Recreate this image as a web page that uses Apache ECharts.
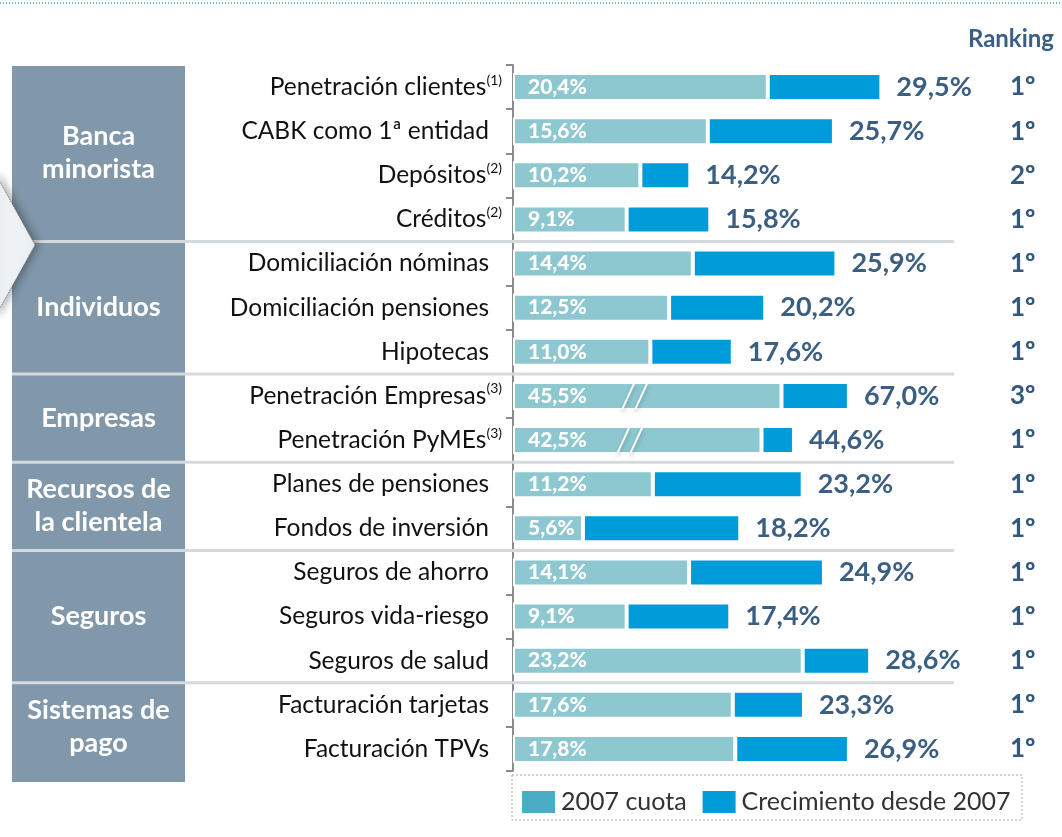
<!DOCTYPE html>
<html>
<head>
<meta charset="utf-8">
<script src="https://cdn.jsdelivr.net/npm/echarts@6/dist/echarts.min.js"></script>
<style>
  html, body { margin: 0; padding: 0; background: #ffffff; }
  #main { width: 1062px; height: 837px; }
</style>
</head>
<body>
<div id="main"></div>
<script>
// filas de arriba a abajo
const categories = [
  "Penetración clientes", "CABK como 1ª entidad", "Depósitos", "Créditos",
  "Domiciliación nóminas", "Domiciliación pensiones", "Hipotecas",
  "Penetración Empresas", "Penetración PyMEs",
  "Planes de pensiones", "Fondos de inversión",
  "Seguros de ahorro", "Seguros vida-riesgo", "Seguros de salud",
  "Facturación tarjetas", "Facturación TPVs"
];
const notes = ["(1)", "", "(2)", "(2)", "", "", "", "(3)", "(3)", "", "", "", "", "", "", ""];
const share2007 = [20.4, 15.6, 10.2, 9.1, 14.4, 12.5, 11.0, 45.5, 42.5, 11.2, 5.6, 14.1, 9.1, 23.2, 17.6, 17.8];
const shareNow = [29.5, 25.7, 14.2, 15.8, 25.9, 20.2, 17.6, 67.0, 44.6, 23.2, 18.2, 24.9, 17.4, 28.6, 23.3, 26.9];
const rankings = ["1º", "1º", "2º", "1º", "1º", "1º", "1º", "3º", "1º", "1º", "1º", "1º", "1º", "1º", "1º", "1º"];
// barras cortadas (//): longitud dibujada, no a escala
const brokenRows = [7, 8];
const brokenBase = [21.5, 19.9];
const brokenTotal = [26.9, 22.5];
const breakMarks = [[9.8, 7], [9.4, 8]];
// bloques del panel izquierdo
const groupNames = ["Banca\nminorista", "Individuos", "Empresas", "Recursos de\nla clientela", "Seguros", "Sistemas de\npago"];
const groupSizes = [4, 3, 2, 2, 3, 2];

const FONT = "Lato";
const BAR_H = 28;

const shownBase = share2007.slice();
const shownTotal = shareNow.slice();
brokenRows.forEach((r, i) => {
  shownBase[r] = brokenBase[i];
  shownTotal[r] = brokenTotal[i];
});
const shownGrowth = shownTotal.map((v, i) => +(v - shownBase[i]).toFixed(2));

const fmt = (v) => v.toFixed(1).replace(".", ",") + "%";

const chart = echarts.init(document.getElementById("main"));

const option = {
  animation: false,
  textStyle: { fontFamily: FONT },
  title: {
    text: "Ranking",
    right: 3,
    top: 22,
    textStyle: { fontFamily: FONT, fontSize: 24, fontWeight: "bold", color: "#3B5F82" },
  },
  legend: {
    left: 515,
    top: 784,
    itemWidth: 35,
    itemHeight: 24,
    itemGap: 14,
    icon: "rect",
    selectedMode: false,
    textStyle: { fontFamily: FONT, fontSize: 25, color: "#333333" },
    data: [
      { name: "2007 cuota", itemStyle: { color: "#4BACC6" } },
      { name: "Crecimiento desde 2007", itemStyle: { color: "#009CD9" } },
    ],
  },
  grid: { left: 513, right: 62, top: 65, bottom: 66, containLabel: false },
  xAxis: { type: "value", min: 0, max: 39, show: false },
  yAxis: [
    {
      type: "category",
      data: categories,
      inverse: true,
      axisLine: { show: true, lineStyle: { color: "#8c8c8c", width: 2 } },
      axisTick: { show: true, length: 7, lineStyle: { color: "#8c8c8c", width: 2 } },
      axisLabel: {
        margin: 11,
        formatter: (value, idx) =>
          notes[idx] ? "{t|" + value + "}{s|" + notes[idx] + "}" : "{t|" + value + "}{g|}",
        rich: {
          t: { fontFamily: FONT, fontSize: 24.5, color: "#111111", lineHeight: 28 },
          s: { fontFamily: FONT, fontSize: 14, color: "#111111", lineHeight: 14, verticalAlign: "top" },
          g: { width: 13 },
        },
      },
      splitLine: { show: false },
    },
    {
      type: "category",
      data: rankings,
      inverse: true,
      position: "right",
      axisLine: { show: false },
      axisTick: { show: false },
      axisLabel: {
        margin: 10,
        fontFamily: FONT,
        fontSize: 26,
        fontWeight: "bold",
        color: "#335A7E",
      },
    },
  ],
  series: [
    {
      name: "2007 cuota",
      type: "bar",
      stack: "total",
      barWidth: BAR_H,
      data: shownBase,
      itemStyle: { color: "#8DC7CF", borderColor: "#ffffff", borderWidth: 2 },
      label: {
        show: true,
        position: "insideLeft",
        distance: 15,
        formatter: (p) => fmt(share2007[p.dataIndex]),
        fontFamily: FONT,
        fontSize: 21,
        fontWeight: 900,
        color: "#ffffff",
      },
    },
    {
      name: "Crecimiento desde 2007",
      type: "bar",
      stack: "total",
      barWidth: BAR_H,
      data: shownGrowth,
      itemStyle: { color: "#009CD9", borderColor: "#ffffff", borderWidth: 2 },
      label: {
        show: true,
        position: "right",
        distance: 15,
        formatter: (p) => fmt(shareNow[p.dataIndex]),
        fontFamily: FONT,
        fontSize: 27,
        fontWeight: "bold",
        color: "#3B5F82",
      },
    },
    {
      // marcas de corte //
      type: "custom",
      silent: true,
      z: 5,
      data: breakMarks,
      renderItem: (params, api) => {
        const p = api.coord([api.value(0), api.value(1)]);
        const h = BAR_H / 2 - 1;
        const line = (dx) => ({
          type: "line",
          shape: { x1: p[0] + dx - 13, y1: p[1] + h, x2: p[0] + dx - 1, y2: p[1] - h },
          style: {
            stroke: "#ffffff",
            lineWidth: 2,
            shadowBlur: 4,
            shadowOffsetY: 3,
            shadowColor: "rgba(0,0,0,0.25)",
          },
        });
        return { type: "group", children: [line(0), line(13)] };
      },
    },
  ],
};

chart.setOption(option);

function drawDecor() {
  const y0 = chart.convertToPixel({ yAxisIndex: 0 }, 0);
  const y1 = chart.convertToPixel({ yAxisIndex: 0 }, 1);
  const band = y1 - y0;
  const edge = (k) => y0 - band / 2 + k * band;
  const rows = categories.length;

  const graphics = [];
  // línea punteada superior
  graphics.push({
    type: "line",
    shape: { x1: 0, y1: 3, x2: 1062, y2: 3 },
    style: { stroke: "#1FA3DA", lineWidth: 1.5, lineDash: [1, 2] },
    z: 1,
  });
  // panel gris de la izquierda
  graphics.push({
    type: "rect",
    shape: { x: 12, y: edge(0) + 1, width: 173, height: edge(rows) + 11 - edge(0) - 1 },
    style: { fill: "#8098AA" },
    z: 1,
  });
  // separadores de bloques y textos
  let start = 0;
  groupNames.forEach((name, g) => {
    const end = start + groupSizes[g];
    if (g > 0) {
      graphics.push({
        type: "line",
        shape: { x1: 12, y1: edge(start), x2: 954, y2: edge(start) },
        style: { stroke: "#D6D9DC", lineWidth: 3 },
        z: 2,
      });
    }
    graphics.push({
      type: "text",
      x: 98.5,
      y: (edge(start) + edge(end)) / 2,
      style: {
        text: name,
        fill: "#ffffff",
        font: "bold 27px " + FONT,
        lineHeight: 33,
        align: "center",
        verticalAlign: "middle",
      },
      z: 4,
    });
    start = end;
  });
  // flecha
  graphics.push({
    type: "polygon",
    shape: { points: [[-5, 173], [35, 245], [-5, 317]] },
    style: {
      fill: "#EEF2F5",
      stroke: "#777777",
      lineWidth: 1,
      lineDash: [1, 1],
      shadowBlur: 8,
      shadowOffsetX: 3,
      shadowColor: "rgba(0,0,0,0.35)",
    },
    z: 3,
  });
  // marco de la leyenda
  graphics.push({
    type: "rect",
    shape: { x: 512, y: 775, width: 510, height: 45 },
    style: { fill: "none", stroke: "#aaaaaa", lineWidth: 1, lineDash: [2, 2] },
    z: 1,
  });
  chart.setOption({ graphic: graphics });
}

drawDecor();

window.addEventListener("resize", () => {
  chart.resize();
  drawDecor();
});
</script>
</body>
</html>
